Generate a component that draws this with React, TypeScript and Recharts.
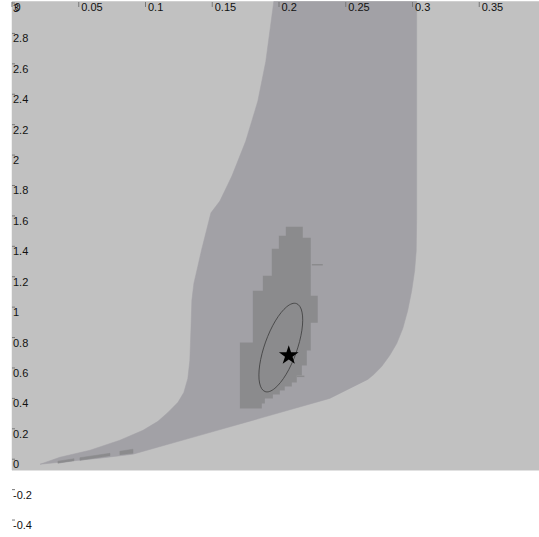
import React from 'react';
import { ScatterChart, Scatter, XAxis, YAxis, Symbols } from 'recharts';

// axis ticks
const X_TICKS = [0, 0.05, 0.1, 0.15, 0.2, 0.25, 0.3, 0.35];
const Y_TICKS = [3, 2.8, 2.6, 2.4, 2.2, 2, 1.8, 1.6, 1.4, 1.2, 1, 0.8, 0.6, 0.4, 0.2, 0, -0.2, -0.4];

// shaded plot background [x, y]
const BACKGROUND: [number, number][] = [
  [0, 3.01], [0.4, 3.01], [0.4, -0.072], [0, -0.072],
];

// outer feasible region: left edge top->bottom, then lower/right edge back up
const REGION: [number, number][] = [
  [0.1961, 3.01], [0.1901, 2.616], [0.1841, 2.354], [0.1751, 2.092], [0.1647, 1.862],
  [0.1557, 1.698], [0.149, 1.62], [0.1422, 1.384], [0.1362, 1.154], [0.1347, 1.043],
  [0.134, 0.846], [0.1332, 0.649], [0.1317, 0.531], [0.1287, 0.439], [0.1243, 0.374],
  [0.1168, 0.308], [0.1093, 0.249], [0.0981, 0.19], [0.0808, 0.125], [0.0584, 0.059],
  [0.0359, 0.013], [0.021, -0.033],
  [0.0434, -0.013], [0.0659, 0.007], [0.0906, 0.033], [0.1407, 0.157], [0.1856, 0.269],
  [0.238, 0.4], [0.2665, 0.525], [0.271, 0.557], [0.2769, 0.61], [0.2829, 0.682],
  [0.2882, 0.761], [0.2927, 0.859], [0.2964, 0.977], [0.2994, 1.108], [0.3016, 1.239],
  [0.3028, 1.37], [0.3031, 1.567], [0.3031, 3.01],
];

// inner grid-sampled region (staircase outline)
const CORE: [number, number][] = [
  [0.2051, 1.528], [0.2178, 1.528], [0.2178, 1.456], [0.2238, 1.456], [0.2238, 1.075],
  [0.229, 1.075], [0.229, 0.898], [0.2238, 0.898], [0.2238, 0.715], [0.2208, 0.715],
  [0.2208, 0.616], [0.2171, 0.616], [0.2171, 0.551], [0.2133, 0.551], [0.2133, 0.505],
  [0.2096, 0.505], [0.2096, 0.479], [0.2043, 0.479], [0.2043, 0.452], [0.2006, 0.452],
  [0.2006, 0.426], [0.1954, 0.426], [0.1954, 0.4], [0.1894, 0.4], [0.1894, 0.367],
  [0.1871, 0.367], [0.1871, 0.334], [0.1707, 0.334], [0.1707, 0.767], [0.1804, 0.767],
  [0.1804, 1.108], [0.1879, 1.108], [0.1879, 1.207], [0.1946, 1.207], [0.1946, 1.384],
  [0.1999, 1.384], [0.1999, 1.469], [0.2051, 1.469],
];

// small grid fragments near the origin
const STREAK_A: [number, number][] = [[0.0344, -0.013], [0.0464, 0.003], [0.0464, -0.01], [0.0344, -0.026]];
const STREAK_B: [number, number][] = [[0.0509, 0.01], [0.0734, 0.039], [0.0734, 0.023], [0.0509, -0.007]];
const STREAK_C: [number, number][] = [[0.0808, 0.052], [0.0906, 0.066], [0.0906, 0.039], [0.0808, 0.03]];

// stray grid segments
const WHISKER_A: [number, number][] = [[0.2246, 1.279], [0.2328, 1.279]];
const WHISKER_B: [number, number][] = [[0.2133, 0.545], [0.219, 0.545]];

// confidence ellipse outline
const ELLIPSE: [number, number][] = [
  [0.2136, 1.037], [0.218, 0.978], [0.2179, 0.854], [0.2133, 0.697], [0.2056, 0.551],
  [0.1967, 0.454], [0.1891, 0.431], [0.1847, 0.49], [0.1848, 0.615], [0.1894, 0.772],
  [0.1971, 0.918], [0.206, 1.015],
];

// best estimate
const BEST: [number, number][] = [[0.2073, 0.682]];

const BG = '#c1c1c1';
const REGION_FILL = '#a2a1a6';
const CORE_FILL = '#8b8b8d';
const FONT = 'Liberation Sans, Arial, sans-serif';

const pts = (arr: [number, number][]) => arr.map(([x, y]) => ({ x, y }));
const none = () => <g />;

const renderXTick = (props: any) => {
  const { x, payload, index } = props;
  return (
    <g key={`xt-${index}`}>
      <line x1={x} x2={x} y1={2} y2={7} stroke="#777" />
      <text x={x + 2.5} y={11} fontSize={11} fill="#111" fontFamily={FONT}>
        {String(payload.value)}
      </text>
    </g>
  );
};

const renderYTick = (props: any) => {
  const { y, payload, index } = props;
  return (
    <g key={`yt-${index}`}>
      <line x1={12} x2={15} y1={y} y2={y} stroke="#777" />
      <text x={13} y={y + 9} fontSize={11} fill="#111" fontFamily={FONT}>
        {String(payload.value)}
      </text>
    </g>
  );
};

const polygon = (fill: string) => ({ fill, stroke: fill, strokeWidth: 0.5 });

export default function App() {
  return (
    <div style={{ position: 'absolute', left: 0, top: 0, width: 539, height: 537, overflow: 'hidden', background: '#fff' }}>
      <ScatterChart width={546} height={537} margin={{ top: 0.5, right: 0, bottom: 1.75, left: 11 }}>
        <XAxis
          type="number"
          dataKey="x"
          orientation="top"
          domain={[0, 0.4]}
          ticks={X_TICKS}
          interval={0}
          height={1}
          axisLine={false}
          tickLine={false}
          tick={renderXTick}
        />
        <YAxis
          type="number"
          dataKey="y"
          domain={[-0.5, 3]}
          ticks={Y_TICKS}
          interval={0}
          width={1}
          axisLine={false}
          tickLine={false}
          tick={renderYTick}
        />
        <Scatter data={pts(BACKGROUND)} line={polygon(BG)} lineJointType="linearClosed" shape={none} isAnimationActive={false} />
        <Scatter data={pts(REGION)} line={polygon(REGION_FILL)} lineJointType="linearClosed" shape={none} isAnimationActive={false} />
        <Scatter data={pts(STREAK_A)} line={polygon(CORE_FILL)} lineJointType="linearClosed" shape={none} isAnimationActive={false} />
        <Scatter data={pts(STREAK_B)} line={polygon(CORE_FILL)} lineJointType="linearClosed" shape={none} isAnimationActive={false} />
        <Scatter data={pts(STREAK_C)} line={polygon(CORE_FILL)} lineJointType="linearClosed" shape={none} isAnimationActive={false} />
        <Scatter data={pts(CORE)} line={{ fill: CORE_FILL, stroke: 'none' }} lineJointType="linearClosed" shape={none} isAnimationActive={false} />
        <Scatter data={pts(WHISKER_A)} line={{ stroke: CORE_FILL, strokeWidth: 1.5 }} lineJointType="linear" shape={none} isAnimationActive={false} />
        <Scatter data={pts(WHISKER_B)} line={{ stroke: CORE_FILL, strokeWidth: 1.5 }} lineJointType="linear" shape={none} isAnimationActive={false} />
        <Scatter data={pts(ELLIPSE)} line={{ stroke: '#3a3a3a', strokeWidth: 0.8 }} lineJointType="basisClosed" shape={none} isAnimationActive={false} />
        <Scatter
          data={pts(BEST)}
          isAnimationActive={false}
          shape={(p: any) => <Symbols cx={p.cx} cy={p.cy} type="star" size={120} fill="#000" />}
        />
      </ScatterChart>
    </div>
  );
}
